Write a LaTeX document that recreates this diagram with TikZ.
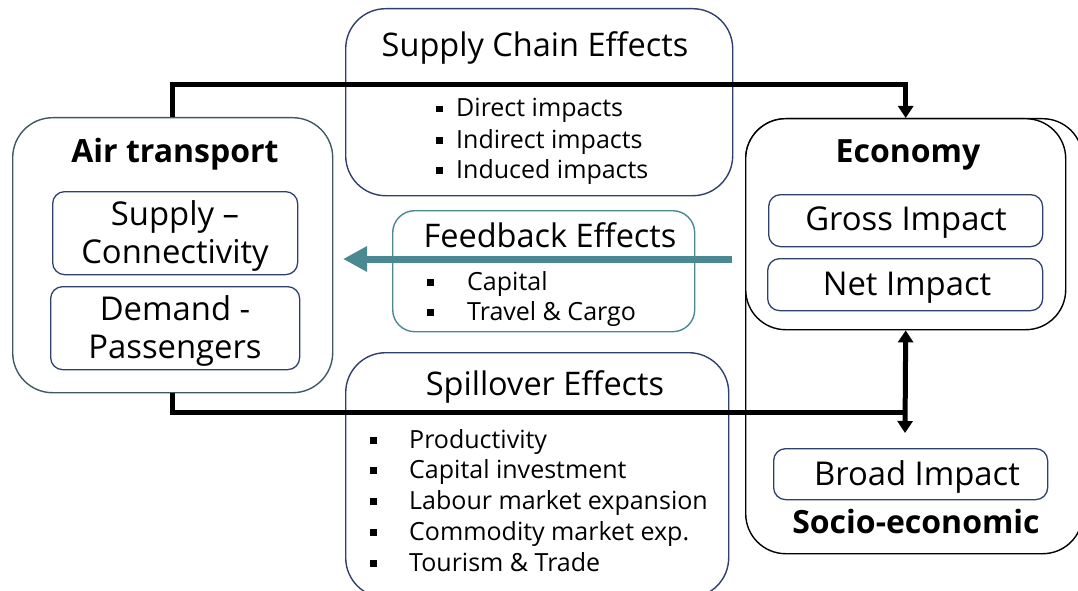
\documentclass[tikz,border=0pt]{standalone}
\usepackage{fontspec}
\setmainfont{Open Sans}[Ligatures={NoCommon}]
\usetikzlibrary{arrows.meta}
\definecolor{navyline}{HTML}{2F3F6E}
\definecolor{slateline}{HTML}{3E5A60}
\definecolor{fbteal}{HTML}{4A8892}
\newcommand{\sqbul}{\rule[4.5pt]{6.5pt}{6.5pt}}
\begin{document}
\begin{tikzpicture}[x=1pt,y=-1pt,
  >={Triangle[width=15pt,length=12pt]},
  panel/.style={draw, line width=1.4pt, rounded corners=40pt, inner sep=0pt, anchor=north west},
  subbox/.style={draw=navyline, line width=1.3pt, rounded corners=12pt, inner sep=0pt, anchor=north west},
  lbl/.style={inner sep=0pt, anchor=base},
  lst/.style={inner sep=0pt, anchor=base west, font=\fontsize{25}{30}\selectfont},
  ttl/.style={lbl, font=\fontsize{32.5}{38}\selectfont},
  subtxt/.style={lbl, font=\fontsize{32.8}{38}\selectfont},
  hdr/.style={lbl, font=\fontsize{32}{38}\selectfont\bfseries},
  link/.style={line width=5pt}
]
\useasboundingbox (0,0) rectangle (1078,591);

% socio-economic frame and the economy panel inside it
\node[panel, minimum width=337pt, minimum height=435pt] (socio) at (745,118) {};
\node[panel, fill=white, minimum width=320pt, minimum height=211pt] (eco) at (745,118) {};
\node[subbox, minimum width=274pt, minimum height=52pt] (gross) at (768,194) {};
\node[subbox, minimum width=275pt, minimum height=52pt] (net) at (767,258) {};
\node[subbox, minimum width=274pt, minimum height=51pt] (broad) at (773,448) {};

% air transport panel
\node[panel, draw=slateline, minimum width=320pt, minimum height=275pt] (air) at (12,117) {};
\node[subbox, minimum width=245pt, minimum height=83pt] (supply) at (52,191) {};
\node[subbox, minimum width=249pt, minimum height=83pt] (demand) at (50,286) {};

% effect panels
\node[panel, draw=navyline, minimum width=387pt, minimum height=187pt] (chain) at (345,8) {};
\node[panel, draw=fbteal, rounded corners=22pt, minimum width=302pt, minimum height=121pt] (feed) at (392,210) {};
\node[panel, draw=navyline, minimum width=383pt, minimum height=245pt] (spill) at (345,352) {};

% texts
\node[hdr] (airT) at (175,162) {Air transport};
\node[subtxt] (supT1) at (175,225) {Supply –};
\node[subtxt] (supT2) at (175,263) {Connectivity};
\node[subtxt] (demT1) at (175,320) {Demand -};
\node[subtxt] (demT2) at (175,358) {Passengers};

\node[hdr] (ecoT) at (908,162) {Economy};
\node[subtxt] (grossT) at (906,230) {Gross Impact};
\node[subtxt] (netT) at (907,295) {Net Impact};
\node[subtxt] (broadT) at (917,485) {Broad Impact};
\node[hdr] (socioT) at (916,533) {Socio-economic};

\node[ttl] (chainT) at (535,57) {Supply Chain Effects};
\node[lst] (c1) at (436,117) {\sqbul\hspace{13.5pt}Direct impacts};
\node[lst] (c2) at (436,148) {\sqbul\hspace{13.5pt}Indirect impacts};
\node[lst] (c3) at (436,178) {\sqbul\hspace{13.5pt}Induced impacts};

\node[ttl] (feedT) at (550,247) {Feedback Effects};
\node[lst] (f1) at (427,290) {\sqbul\hspace{33.5pt}Capital};
\node[lst] (f2) at (427,320) {\sqbul\hspace{33.5pt}Travel \& Cargo};

\node[ttl] (spillT) at (545,395) {Spillover Effects};
\node[lst] (s1) at (370,448) {\sqbul\hspace{32.5pt}Productivity};
\node[lst] (s2) at (370,478) {\sqbul\hspace{32.5pt}Capital investment};
\node[lst] (s3) at (370,509) {\sqbul\hspace{32.5pt}Labour market expansion};
\node[lst] (s4) at (370,540) {\sqbul\hspace{32.5pt}Commodity market exp.};
\node[lst] (s5) at (370,571) {\sqbul\hspace{32.5pt}Tourism \& Trade};

% connectors
\coordinate (topy) at (0,85);
\coordinate (boty) at (0,412);
\coordinate (socioend) at (905,433);
\coordinate (fbstart) at (732,259);
\coordinate (fbend) at (343,259);

\draw[link, ->] (air.north) -- (air.north |- topy) -| (eco.north);
\draw[link] (air.south) -- (air.south |- boty) -- (eco.south |- boty);
\draw[link, <->] (eco.south) -- (socioend);
\draw[fbteal, line width=7pt, -{Triangle[width=24pt,length=24pt]}] (fbstart) -- (fbend);
\end{tikzpicture}
\end{document}
